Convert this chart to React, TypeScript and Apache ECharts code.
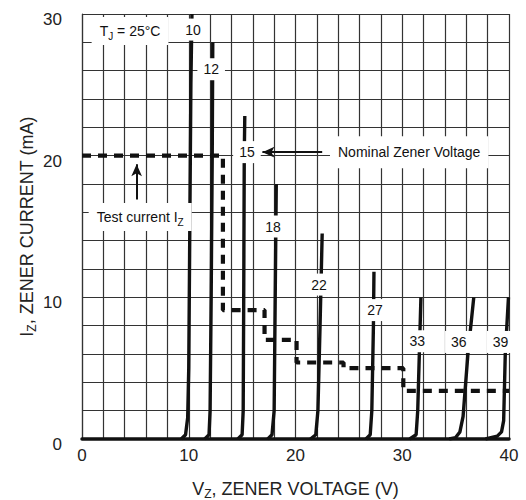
import React, { useEffect, useRef } from "react";
import * as echarts from "echarts";

// Zener curves: [V, I(mA)]
const curve10 = [[9.3, 0], [9.7, 0.3], [9.9, 1.5], [10.0, 5], [10.1, 15], [10.2, 25], [10.3, 30]];
const curve12 = [[11.5, 0], [11.9, 0.3], [12.0, 2], [12.1, 10], [12.2, 20], [12.25, 28]];
const curve15 = [[14.6, 0], [15.0, 0.3], [15.1, 2], [15.15, 10], [15.2, 20], [15.25, 22.8]];
const curve18 = [[17.4, 0], [17.8, 0.3], [18.0, 2], [18.1, 10], [18.2, 18]];
const curve22 = [[21.4, 0], [21.9, 0.3], [22.1, 2], [22.3, 8], [22.5, 14.5]];
const curve27 = [[26.6, 0], [27.0, 0.3], [27.15, 2], [27.3, 8], [27.35, 11.8]];
const curve33 = [[30.7, 0], [31.3, 0.3], [31.45, 2], [31.6, 6], [31.75, 10]];
const curve36 = [[34.4, 0], [35.0, 0.1], [35.4, 0.5], [35.7, 1.6], [36.15, 6], [36.7, 10]];
const curve39 = [[37.8, 0], [38.9, 0.2], [39.3, 0.5], [39.5, 1.3], [39.65, 6], [39.95, 10]];

// Test current (nominal) step line
const testCurrent = [
  [0, 20], [13.2, 20], [13.2, 9.1], [17.1, 9.1], [17.1, 7.0], [20.1, 7.0],
  [20.1, 5.4], [24.5, 5.4], [24.5, 5.0], [30.1, 5.0], [30.1, 3.4], [40, 3.4],
];

// Curve labels [V, I, text]
const curveLabels = [
  [10.4, 28.9, "10"], [12.1, 26.1, "12"], [15.45, 20.25, "15"], [17.9, 15.0, "18"],
  [22.2, 10.9, "22"], [27.45, 9.1, "27"], [31.4, 6.9, "33"], [35.3, 6.85, "36"], [39.2, 6.85, "39"],
];

// Annotations [V, I, rich text]
const annotations = [
  [4.5, 28.8, "{a|T}{s|J}{a| = 25°C}"],
  [5.45, 15.67, "{a|Test current I}{s|Z}"],
  [30.65, 20.25, "{a|Nominal Zener Voltage}"],
];

// Arrows [[x1,y1],[x2,y2]]
const arrows = [
  [[22.5, 20.25], [16.9, 20.25]],
  [[5.12, 16.9], [5.12, 19.4]],
];

const xTicks = [0, 10, 20, 30, 40];
const yTicks = [0, 10, 20, 30];

const FONT = "Liberation Sans, Arial, sans-serif";

export default function App() {
  const ref = useRef<HTMLDivElement>(null);
  useEffect(() => {
    if (!ref.current) return;
    const chart = echarts.init(ref.current, undefined, { renderer: "svg" });
    const curves = [curve10, curve12, curve15, curve18, curve22, curve27, curve33, curve36, curve39];
    const curveSeries = curves.map((d) => ({
      type: "line",
      data: d,
      showSymbol: false,
      symbol: "none",
      smooth: false,
      lineStyle: { color: "#111", width: 3.4 },
      z: 3,
    }));
    const rich = {
      a: { fontSize: 14, fontFamily: FONT, fill: "#111", color: "#111" },
      s: { fontSize: 10, fontFamily: FONT, fill: "#111", color: "#111", padding: [10, 0, 0, 0] },
    };
    chart.setOption({
      animation: false,
      backgroundColor: "#fff",
      textStyle: { fontFamily: FONT },
      grid: { left: 82, right: 17, top: 14, bottom: 61, outerBoundsMode: "none", containLabel: false },
      xAxis: {
        type: "value",
        min: 0,
        max: 40,
        interval: 2,
        axisLine: { show: true, onZero: false, lineStyle: { color: "#111", width: 3.5 } },
        axisTick: { show: false },
        splitLine: { show: true, lineStyle: { color: "#333", width: 1.2 } },
        axisLabel: {
          fontSize: 17,
          fontFamily: FONT,
          color: "#222",
          margin: 8,
          formatter: (v: number) => (xTicks.includes(v) ? String(v) : ""),
        },
        name: "{a|V}{s|Z}{a|, ZENER VOLTAGE (V)}",
        nameLocation: "middle",
        nameGap: 39,
        nameMoveOverlap: false,
        nameTextStyle: {
          rich: {
            a: { fontSize: 18, fontFamily: FONT, color: "#222" },
            s: { fontSize: 12, fontFamily: FONT, color: "#222", padding: [10, 0, 0, 0] },
          },
        },
      },
      yAxis: {
        type: "value",
        min: 0,
        max: 30,
        interval: 2,
        axisLine: { show: true, lineStyle: { color: "#333", width: 1.2 } },
        axisTick: { show: false },
        splitLine: { show: true, lineStyle: { color: "#333", width: 1.2 } },
        axisLabel: {
          fontSize: 17,
          fontFamily: FONT,
          color: "#222",
          margin: 20,
          verticalAlign: "top",
          lineHeight: 11,
          formatter: (v: number) => (yTicks.includes(v) ? String(v) : ""),
        },
        name: "{a|I}{s|Z}{a|, ZENER CURRENT (mA)}",
        nameLocation: "middle",
        nameRotate: 90,
        nameGap: 44,
        nameMoveOverlap: false,
        nameTextStyle: {
          rich: {
            a: { fontSize: 18, fontFamily: FONT, color: "#222" },
            s: { fontSize: 12, fontFamily: FONT, color: "#222", padding: [10, 0, 0, 0] },
          },
        },
      },
      series: [
        ...curveSeries,
        {
          type: "line",
          data: testCurrent,
          showSymbol: false,
          symbol: "none",
          lineStyle: { color: "#111", width: 4.2, type: [9, 7] },
          z: 4,
          markLine: {
            silent: true,
            symbol: ["none", "arrow"],
            symbolSize: [8, 12],
            label: { show: false },
            lineStyle: { color: "#111", width: 2, type: "solid" },
            data: arrows.map((a) => [{ coord: a[0] }, { coord: a[1] }]),
          },
        },
      ],
    });
    const toPx = (x: number, y: number) => chart.convertToPixel({ gridIndex: 0 }, [x, y]) as number[];
    const graphics: any[] = [];
    curveLabels.forEach((l) => {
      const p = toPx(l[0] as number, l[1] as number);
      graphics.push({
        type: "text",
        x: p[0],
        y: p[1],
        z: 100,
        style: {
          text: l[2] as string,
          font: `14px ${FONT}`,
          fill: "#111",
          align: "center",
          verticalAlign: "middle",
          backgroundColor: "#fff",
          padding: [4, 6],
        },
      });
    });
    annotations.forEach((l, i) => {
      const p = toPx(l[0] as number, l[1] as number);
      graphics.push({
        type: "text",
        x: p[0],
        y: p[1],
        z: 100,
        style: {
          text: l[2] as string,
          fill: "#111",
          align: "center",
          verticalAlign: "middle",
          backgroundColor: "#fff",
          padding: i === 2 ? [9, 8] : [4, 8],
          rich,
        },
      });
    });
    chart.setOption({ graphic: graphics });
    return () => chart.dispose();
  }, []);
  return <div ref={ref} style={{ position: "fixed", left: 0, top: 0, width: 526, height: 500 }} />;
}
